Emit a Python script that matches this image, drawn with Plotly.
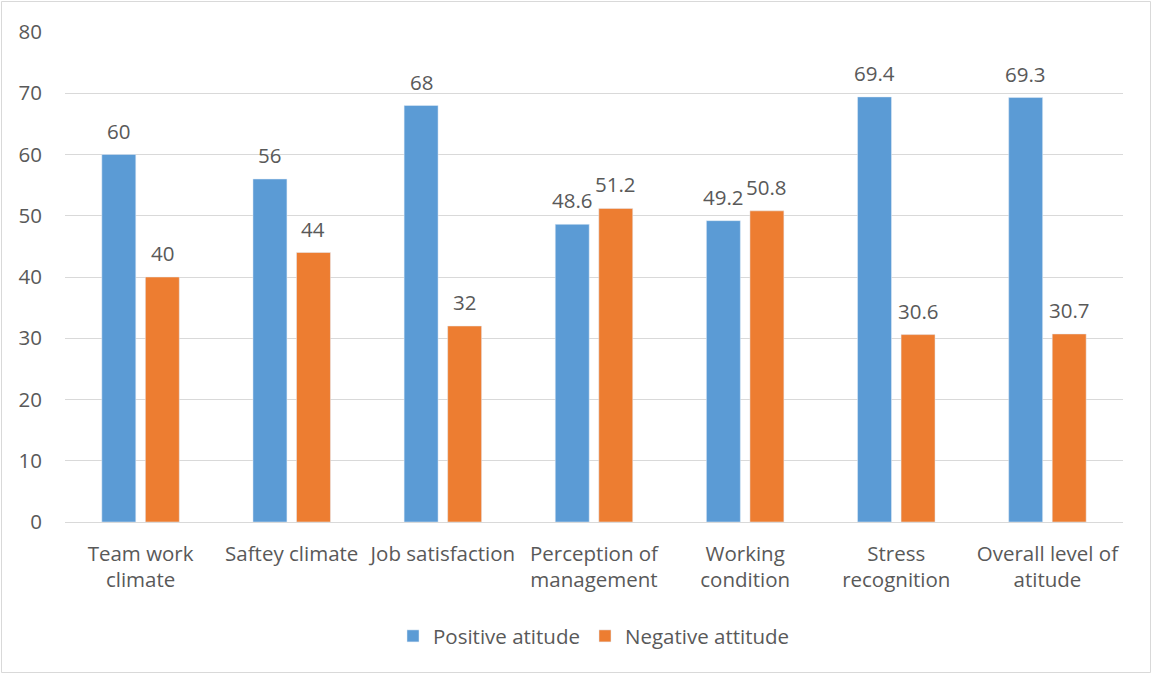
import plotly.graph_objects as go

categories = ["Team work<br>climate", "Saftey climate", "Job satisfaction",
              "Perception of<br>management", "Working<br>condition",
              "Stress<br>recognition", "Overall level of<br>atitude"]
positive = [60, 56, 68, 48.6, 49.2, 69.4, 69.3]
negative = [40, 44, 32, 51.2, 50.8, 30.6, 30.7]
y_ticks = [0, 10, 20, 30, 40, 50, 60, 70, 80]

W, H = 1152, 674
L, R, T, B = 65, 29, 32, 152
FONT = dict(family="Open Sans, Liberation Sans, sans-serif", size=20.5, color="#595959")

BARGAP, GROUPGAP = 0.424, 0.22

fig = go.Figure()
fig.add_trace(go.Bar(name="Positive atitude", x=categories, y=positive,
                     marker_color="#5B9BD5"))
fig.add_trace(go.Bar(name="Negative attitude", x=categories, y=negative,
                     marker_color="#ED7D31"))

# value labels placed above each bar
pw, ph = W - L - R, H - T - B
slot_px = pw / len(categories) * (1 - BARGAP) / 2
for vals, sign in ((positive, -1), (negative, 1)):
    for c, v in zip(categories, vals):
        fig.add_annotation(x=c, y=v, text=f"{v:g}", showarrow=False,
                           xshift=sign * slot_px / 2, yanchor="bottom", yshift=8,
                           font=FONT)

fig.add_shape(type="rect", xref="paper", yref="paper",
              x0=(1.5 - L) / pw, x1=(W - 1.5 - L) / pw,
              y0=-(H - 1.5 - T - ph) / ph, y1=(T - 1.5) / ph + 1,
              line=dict(color="#D9D9D9", width=1), layer="below")

fig.update_layout(
    width=W, height=H,
    margin=dict(l=L, r=R, t=T, b=B),
    paper_bgcolor="white", plot_bgcolor="white",
    font=FONT,
    barmode="group", bargap=BARGAP, bargroupgap=GROUPGAP,
    legend=dict(orientation="h", x=0.5, xanchor="center", y=-0.192, yanchor="top",
                font=FONT, itemwidth=30),
    xaxis=dict(showline=True, linecolor="#D9D9D9", linewidth=1, ticks="",
               tickfont=FONT, showgrid=False, ticklabelstandoff=13),
    yaxis=dict(range=[0, 80], tickvals=y_ticks, showgrid=True, gridcolor="#D9D9D9",
               gridwidth=1, zeroline=False, showline=False, ticks="",
               tickfont=FONT, ticklabelstandoff=22),
)

fig.write_html("out.html")
